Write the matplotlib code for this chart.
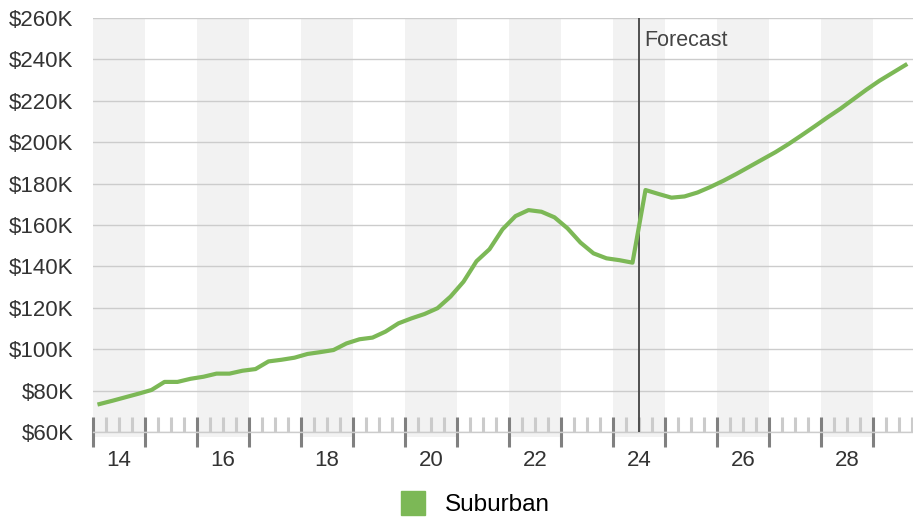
import numpy as np
import matplotlib
matplotlib.use("Agg")
import matplotlib.pyplot as plt
import matplotlib.ticker as ticker
from matplotlib.lines import Line2D

plt.rcParams['font.family'] = ['Liberation Sans', 'DejaVu Sans']

# quarterly values, thousands of dollars (Q1 2014 .. Q2 2024 history, then forecast)
history = [73.5, 75.1, 76.8, 78.5,
           80.3, 84.2, 84.2, 85.7,
           86.7, 88.2, 88.2, 89.6,
           90.4, 94.1, 94.9, 95.9,
           97.7, 98.6, 99.6, 102.8,
           104.8, 105.6, 108.5, 112.5,
           114.9, 117.0, 119.8, 125.4,
           132.6, 142.5, 148.3, 157.9,
           164.3, 167.2, 166.4, 163.7,
           158.4, 151.5, 146.3, 143.9,
           143.0, 141.8]
forecast = [176.9, 175.0,
            173.2, 173.8, 175.7, 178.4,
            181.4, 184.7, 188.2, 191.7,
            195.2, 199.1, 203.3, 207.6,
            212.0, 216.2, 220.8, 225.4,
            229.7, 233.5, 237.3]
values = history + forecast
start_year = 2014
quarters = start_year + 0.125 + 0.25 * np.arange(len(values))
forecast_at = 2024.5
series_name = "Suburban"
yticks = list(range(60, 261, 20))
label_years = list(range(2014, 2029, 2))

green = '#7cb856'
fig = plt.figure(figsize=(9.13, 5.18), dpi=100)
ax = fig.add_axes([93/913, 1 - 432/518, 820/913, 414/518])

x_end = 2014 + 820/52
ax.set_xlim(2014, x_end)
ax.set_ylim(60, 260)

# alternate year bands
for yr in label_years:
    ax.axvspan(yr, yr + 1, ymin=-0.012, ymax=1, color='#f2f2f2', lw=0, zorder=0, clip_on=False)

ax.set_axisbelow(True)
ax.yaxis.grid(True, color='#cccccc', lw=1.0)
ax.set_yticks(yticks)
ax.set_yticklabels(['$%dK' % v for v in yticks])
ax.tick_params(axis='y', length=0, pad=14, labelsize=16, labelcolor='#333333')

ax.xaxis.set_major_locator(ticker.MultipleLocator(1))
ax.xaxis.set_minor_locator(ticker.MultipleLocator(0.25))
ax.xaxis.set_major_formatter(ticker.NullFormatter())

def year_label(x, pos):
    yr = x - 0.5
    if abs(yr - round(yr)) < 1e-6 and int(round(yr)) in label_years:
        return '%02d' % (int(round(yr)) % 100)
    return ''

ax.xaxis.set_minor_formatter(ticker.FuncFormatter(year_label))
ax.tick_params(axis='x', which='major', direction='inout', length=22, width=2.2, color='#808080')
ax.tick_params(axis='x', which='minor', direction='in', length=11, width=2.2, color='#cbcbcb',
               pad=13, labelsize=16, labelcolor='#333333')

for s in ['top', 'right', 'left']:
    ax.spines[s].set_visible(False)
ax.spines['bottom'].set_color('#cccccc')
ax.spines['bottom'].set_linewidth(1.0)

ax.axvline(forecast_at, color='#444444', lw=1.3, zorder=3)
ax.text(forecast_at + 0.1, 249, 'Forecast', fontsize=15.5, color='#444444', va='center', ha='left')

ax.plot(quarters, values, color=green, lw=3, zorder=4, solid_joinstyle='round')

handle = Line2D([], [], marker='s', color=green, lw=0, markersize=17)
fig.legend([handle], [series_name], loc='center', bbox_to_anchor=(0.514, 1 - 505/518),
           frameon=False, fontsize=17.5, handletextpad=0.33)

fig.savefig('out.png', dpi=100)
